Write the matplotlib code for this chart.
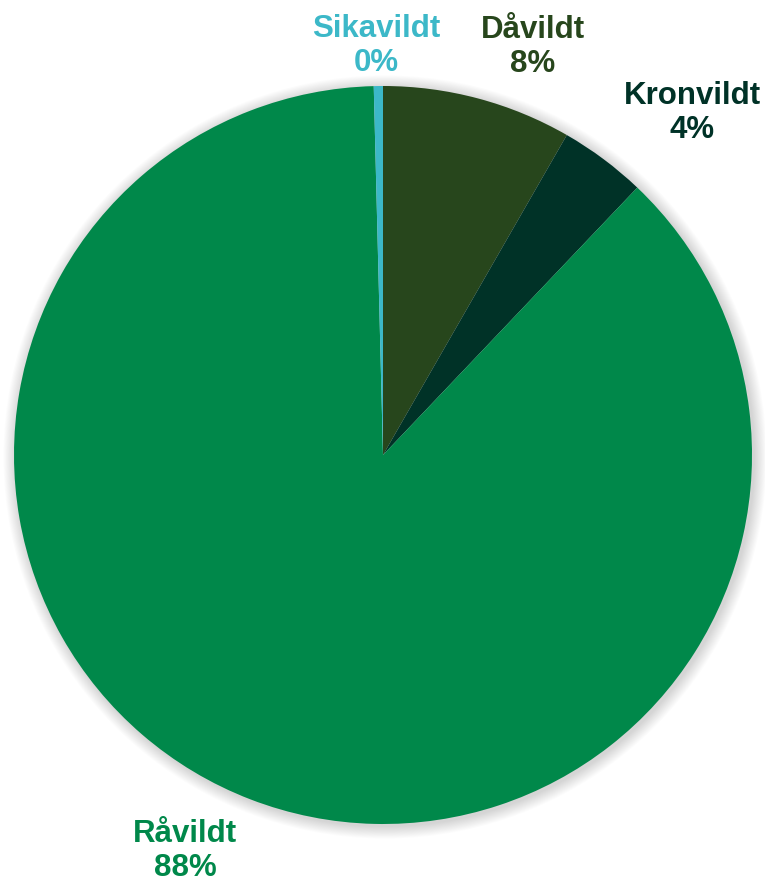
import matplotlib
matplotlib.use("Agg")
import matplotlib.pyplot as plt
from matplotlib.patches import Circle

categories = ["Dåvildt", "Kronvildt", "Råvildt", "Sikavildt"]
values = [8.3, 3.8, 87.5, 0.4]
colors = ["#27461C", "#003227", "#00884A", "#3CB8C8"]

plt.rcParams['font.family'] = ['Liberation Sans', 'DejaVu Sans']

fig = plt.figure(figsize=(7.65, 8.85), dpi=100)
ax = fig.add_axes([0, 0, 1, 1])
ax.set_xlim(0, 765)
ax.set_ylim(0, 885)
ax.set_aspect('equal')
ax.axis('off')

cx, cy, r = 383, 430, 369

# soft shadow
for k in range(14, 0, -1):
    ax.add_patch(Circle((cx + 2, cy - 2), r + k * 0.9, color='#000000',
                        alpha=0.013, lw=0, zorder=0))

ax.pie(values, colors=colors, startangle=90, counterclock=False,
       center=(cx, cy), radius=r, wedgeprops=dict(linewidth=0),
       frame=True)
ax.set_xlim(0, 765)
ax.set_ylim(0, 885)
ax.axis('off')

total = sum(values)
pcts = [f"{int(v / total * 100 + 0.5)}%" for v in values]
label_pos = {"Sikavildt": (376, 46), "Dåvildt": (533, 47),
             "Kronvildt": (692, 113), "Råvildt": (185, 851)}
for cat, pct, col in zip(categories, pcts, colors):
    x, y = label_pos[cat]
    ax.text(x, 885 - y, f"{cat}\n{pct}", ha='center', va='center',
            fontsize=22.5, fontweight='bold', color=col, linespacing=1.15)

fig.savefig("out.png", dpi=100)
